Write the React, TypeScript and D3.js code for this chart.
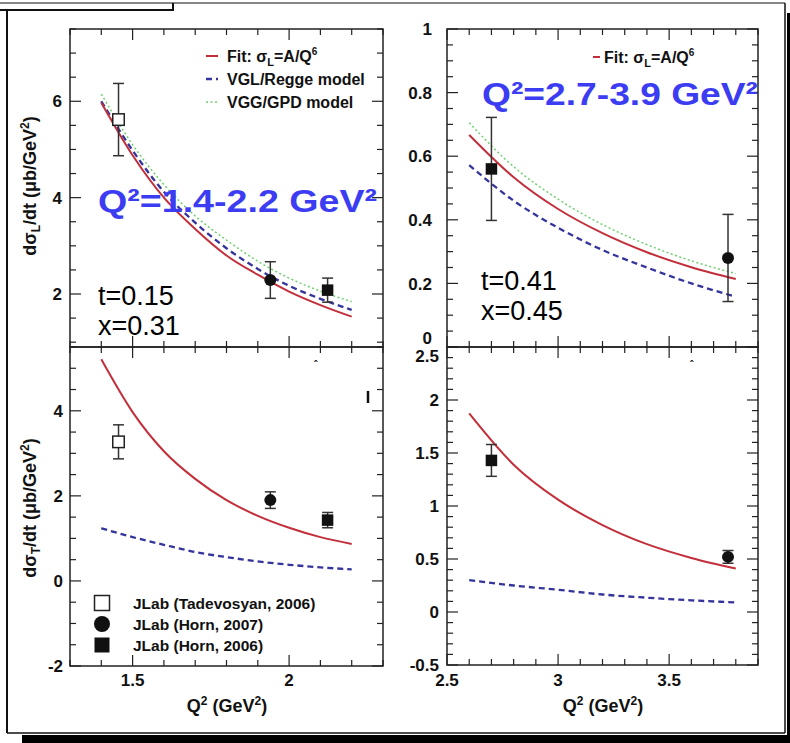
import { useEffect, useRef } from "react";
import * as d3 from "d3";

const FONT = "'Liberation Sans', Arial, Helvetica, sans-serif";

// Q^2 grid and curves, low-Q^2 setting (t=0.15, x=0.31)
const q2Low = [1.4, 1.5, 1.6, 1.7, 1.8, 1.9, 2.0, 2.1, 2.2];
const fitLongLow = [5.97, 4.88, 4.0, 3.35, 2.8, 2.4, 2.05, 1.77, 1.53];
const vglLongLow = [6.0, 4.98, 4.12, 3.48, 2.95, 2.52, 2.17, 1.9, 1.67];
const vggLongLow = [6.15, 5.1, 4.27, 3.62, 3.12, 2.68, 2.33, 2.06, 1.84];
const fitTransLow = [5.21, 3.97, 3.05, 2.4, 1.9, 1.53, 1.25, 1.03, 0.87];
const vglTransLow = [1.24, 1.03, 0.85, 0.68, 0.56, 0.46, 0.38, 0.32, 0.27];

// high-Q^2 setting (t=0.41, x=0.45)
const q2High = [2.6, 2.8, 3.0, 3.2, 3.4, 3.6, 3.8];
const fitLongHigh = [0.667, 0.534, 0.434, 0.358, 0.298, 0.251, 0.214];
const vglLongHigh = [0.572, 0.46, 0.375, 0.305, 0.25, 0.2, 0.158];
const vggLongHigh = [0.705, 0.567, 0.465, 0.385, 0.322, 0.271, 0.231];
const fitTransHigh = [1.874, 1.39, 1.06, 0.82, 0.64, 0.51, 0.41];
const vglTransHigh = [0.3, 0.25, 0.21, 0.165, 0.135, 0.11, 0.09];

// data points: [Q2, value, error]
const tadevosyanLong = [[1.455, 5.62, 0.75]];
const tadevosyanTrans = [[1.455, 3.27, 0.4]];
const horn2007LongLow = [[1.94, 2.29, 0.38]];
const horn2007TransLow = [[1.94, 1.9, 0.195]];
const horn2006LongLow = [[2.123, 2.08, 0.25]];
const horn2006TransLow = [[2.123, 1.43, 0.18]];
const horn2006LongHigh = [[2.7, 0.56, 0.162]];
const horn2006TransHigh = [[2.7, 1.43, 0.15]];
const horn2007LongHigh = [[3.765, 0.28, 0.137]];
const horn2007TransHigh = [[3.765, 0.52, 0.06]];

const legendRows = ["JLab (Tadevosyan, 2006)", "JLab (Horn, 2007)", "JLab (Horn, 2006)"];

const RED = "#c22f3a";
const BLUE = "#34349c";
const GREEN = "#6fd06f";
const TEXTBLUE = "#3c3cf2";

const styles: Record<string, { color: string; width: number; dash: string | null }> = {
  fit: { color: RED, width: 2, dash: null },
  vgl: { color: BLUE, width: 2.3, dash: "6,4" },
  vgg: { color: GREEN, width: 1.5, dash: "2,2.5" },
};

const panels = [
  {
    xd: [1.3, 2.3], yd: [0.9, 7.5], l: 70, r: 383, t: 29, b: 347,
    xMajor: [1.5, 2], xMinor: 0.1, yMajor: [2, 4, 6], yMinor: 0.5,
    yLabels: [2, 4, 6], yLabelX: 62, xLabels: [] as number[],
    q2: q2Low,
    curves: [["vgg", vggLongLow], ["vgl", vglLongLow], ["fit", fitLongLow]],
    points: [["open", tadevosyanLong], ["circle", horn2007LongLow], ["square", horn2006LongLow]],
  },
  {
    xd: [1.3, 2.3], yd: [-2, 5.5], l: 70, r: 383, t: 347, b: 666,
    xMajor: [1.5, 2], xMinor: 0.1, yMajor: [-2, 0, 2, 4], yMinor: 0.5,
    yLabels: [-2, 0, 2, 4], yLabelX: 63, xLabels: [1.5, 2],
    q2: q2Low,
    curves: [["vgl", vglTransLow], ["fit", fitTransLow]],
    points: [["open", tadevosyanTrans], ["circle", horn2007TransLow], ["square", horn2006TransLow]],
  },
  {
    xd: [2.5, 3.9], yd: [0, 1], l: 447, r: 758, t: 29, b: 347,
    xMajor: [2.5, 3, 3.5], xMinor: 0.1, yMajor: [0, 0.2, 0.4, 0.6, 0.8, 1], yMinor: 0.05,
    yLabels: [0, 0.2, 0.4, 0.6, 0.8, 1], yLabelX: 432, xLabels: [] as number[],
    q2: q2High,
    curves: [["vgg", vggLongHigh], ["vgl", vglLongHigh], ["fit", fitLongHigh]],
    points: [["square", horn2006LongHigh], ["circle", horn2007LongHigh]],
  },
  {
    xd: [2.5, 3.9], yd: [-0.5, 2.5], l: 447, r: 758, t: 347, b: 665,
    xMajor: [2.5, 3, 3.5], xMinor: 0.1, yMajor: [-0.5, 0, 0.5, 1, 1.5, 2, 2.5], yMinor: 0.1,
    yLabels: [-0.5, 0, 0.5, 1, 1.5, 2, 2.5], yLabelX: 439, xLabels: [2.5, 3, 3.5],
    q2: q2High,
    curves: [["vgl", vglTransHigh], ["fit", fitTransHigh]],
    points: [["square", horn2006TransHigh], ["circle", horn2007TransHigh]],
  },
];

function minorTicks(d: number[], step: number) {
  const out: number[] = [];
  const start = Math.ceil(d[0] / step - 1e-6);
  for (let i = start; i * step <= d[1] + 1e-6; i++) out.push(+(i * step).toFixed(4));
  return out;
}

function drawMarker(g: any, kind: string, cx: number, cy: number, s: number) {
  if (kind === "circle") {
    g.append("circle").attr("cx", cx).attr("cy", cy).attr("r", s / 2).attr("fill", "#111");
  } else {
    g.append("rect")
      .attr("x", cx - s / 2).attr("y", cy - s / 2).attr("width", s).attr("height", s)
      .attr("fill", kind === "open" ? "#fff" : "#111")
      .attr("stroke", "#222").attr("stroke-width", kind === "open" ? 1.5 : 0);
  }
}

const App = () => {
  const svgRef = useRef<SVGSVGElement>(null);

  useEffect(() => {
    if (!svgRef.current) return;
    const svg = d3.select(svgRef.current);
    svg.selectAll("*").remove();

    svg.append("rect").attr("width", 790).attr("height", 743).attr("fill", "#fff");

    panels.forEach((p) => {
      const x = d3.scaleLinear().domain(p.xd).range([p.l, p.r]);
      const y = d3.scaleLinear().domain(p.yd).range([p.b, p.t]);
      const g = svg.append("g");

      // curves
      p.curves.forEach(([name, vals]: any) => {
        const st = styles[name];
        const line = d3.line<number>()
          .x((_, i) => x(p.q2[i]))
          .y((d) => y(d))
          .curve(d3.curveMonotoneX);
        g.append("path")
          .attr("d", line(vals))
          .attr("fill", "none")
          .attr("stroke", st.color)
          .attr("stroke-width", st.width)
          .attr("stroke-dasharray", st.dash);
      });

      // data points with error bars
      p.points.forEach(([kind, pts]: any) => {
        pts.forEach(([q, v, e]: number[]) => {
          const cx = x(q);
          g.append("line").attr("x1", cx).attr("x2", cx).attr("y1", y(v - e)).attr("y2", y(v + e))
            .attr("stroke", "#333").attr("stroke-width", 1.5);
          [v - e, v + e].forEach((yy) =>
            g.append("line").attr("x1", cx - 5.5).attr("x2", cx + 5.5).attr("y1", y(yy)).attr("y2", y(yy))
              .attr("stroke", "#333").attr("stroke-width", 1.5));
          drawMarker(g, kind, cx, y(v), kind === "circle" ? 12 : 11.5);
        });
      });

      // frame
      g.append("rect").attr("x", p.l).attr("y", p.t).attr("width", p.r - p.l).attr("height", p.b - p.t)
        .attr("fill", "none").attr("stroke", "#222").attr("stroke-width", 1.5);

      // ticks, inward on all four sides
      const tk = g.append("g").attr("stroke", "#222").attr("stroke-width", 1.2);
      const xMin = minorTicks(p.xd, p.xMinor);
      const yMin = minorTicks(p.yd, p.yMinor);
      xMin.forEach((v) => {
        const len = p.xMajor.some((m) => Math.abs(m - v) < 1e-6) ? 11 : 6;
        tk.append("line").attr("x1", x(v)).attr("x2", x(v)).attr("y1", p.b).attr("y2", p.b - len);
        tk.append("line").attr("x1", x(v)).attr("x2", x(v)).attr("y1", p.t).attr("y2", p.t + len);
      });
      yMin.forEach((v) => {
        const len = p.yMajor.some((m) => Math.abs(m - v) < 1e-6) ? 11 : 6;
        tk.append("line").attr("x1", p.l).attr("x2", p.l + len).attr("y1", y(v)).attr("y2", y(v));
        tk.append("line").attr("x1", p.r).attr("x2", p.r - len).attr("y1", y(v)).attr("y2", y(v));
      });

      // tick labels (the shared 0 / 2.5 labels at the right seam are nudged apart)
      p.yLabels.forEach((v) => {
        let yy = y(v);
        if (p.l > 400 && v === 0 && p.t < 100) yy -= 9;
        if (p.l > 400 && v === 2.5) yy += 9;
        g.append("text").attr("x", p.yLabelX).attr("y", yy).attr("dy", "0.36em")
          .attr("text-anchor", "end").attr("font-family", FONT).attr("font-weight", "bold")
          .attr("font-size", 17).attr("fill", "#111").text(String(v));
      });
      p.xLabels.forEach((v) => {
        g.append("text").attr("x", x(v)).attr("y", 686)
          .attr("text-anchor", "middle").attr("font-family", FONT).attr("font-weight", "bold")
          .attr("font-size", 17).attr("fill", "#111").text(String(v));
      });
    });

    const txt = (px: number, py: number, size: number, weight = "bold", fill = "#111") =>
      svg.append("text").attr("x", px).attr("y", py).attr("font-family", FONT)
        .attr("font-size", size).attr("font-weight", weight).attr("fill", fill);

    // axis titles
    const yTitle = (cy: number, sub: string) => {
      const t = svg.append("text").attr("transform", `translate(36,${cy}) rotate(-90)`)
        .attr("text-anchor", "middle").attr("font-family", FONT).attr("font-weight", "bold")
        .attr("font-size", 18).attr("fill", "#111");
      t.append("tspan").text("dσ");
      t.append("tspan").attr("font-size", 12).attr("dy", 4).text(sub);
      t.append("tspan").attr("dy", -4).text("/dt (μb/GeV");
      t.append("tspan").attr("font-size", 12).attr("dy", -7).text("2");
      t.append("tspan").attr("dy", 7).text(")");
    };
    yTitle(186, "L");
    yTitle(508, "T");

    [227, 603].forEach((cx) => {
      const t = txt(cx, 712, 18).attr("text-anchor", "middle");
      t.append("tspan").text("Q");
      t.append("tspan").attr("font-size", 12).attr("dy", -7).text("2");
      t.append("tspan").attr("dy", 7).text(" (GeV");
      t.append("tspan").attr("font-size", 12).attr("dy", -7).text("2");
      t.append("tspan").attr("dy", 7).text(")");
    });

    // model legends
    const fitLabel = (px: number, py: number) => {
      const t = txt(px, py, 16);
      t.append("tspan").text("Fit: σ");
      t.append("tspan").attr("font-size", 11).attr("dy", 4).text("L");
      t.append("tspan").attr("dy", -4).text("=A/Q");
      t.append("tspan").attr("font-size", 10).attr("dy", -7).text("6");
    };
    const legendLines = [
      ["fit", 56], ["vgl", 79], ["vgg", 102],
    ] as [string, number][];
    legendLines.forEach(([name, ly]) => {
      const st = styles[name];
      svg.append("line").attr("x1", 206).attr("x2", 218).attr("y1", ly).attr("y2", ly)
        .attr("stroke", st.color).attr("stroke-width", st.width).attr("stroke-dasharray", st.dash);
    });
    fitLabel(227, 62);
    txt(227, 85, 16).text("VGL/Regge model");
    txt(227, 108, 16).text("VGG/GPD model");

    svg.append("line").attr("x1", 593).attr("x2", 600).attr("y1", 57).attr("y2", 57)
      .attr("stroke", RED).attr("stroke-width", 2);
    fitLabel(604, 63);

    // data legend
    const kinds = ["open", "circle", "square"];
    legendRows.forEach((label, i) => {
      const ly = 603 + i * 21;
      drawMarker(svg, kinds[i], 102, ly, kinds[i] === "circle" ? 16 : 15);
      txt(133, ly + 5.5, 15.5).text(label);
    });

    // big annotations
    txt(98, 212, 32, "bold", TEXTBLUE).attr("textLength", 279).attr("lengthAdjust", "spacingAndGlyphs")
      .text("Q²=1.4-2.2 GeV²");
    txt(482, 105, 32, "bold", TEXTBLUE).attr("textLength", 276).attr("lengthAdjust", "spacingAndGlyphs")
      .text("Q²=2.7-3.9 GeV²");
    txt(98, 305, 27, "normal", "#000").text("t=0.15");
    txt(98, 335, 27, "normal", "#000").text("x=0.31");
    txt(481, 290, 27, "normal", "#000").text("t=0.41");
    txt(481, 320, 27, "normal", "#000").text("x=0.45");

    // small leftover marks
    svg.append("line").attr("x1", 368).attr("x2", 368).attr("y1", 391).attr("y2", 403)
      .attr("stroke", "#111").attr("stroke-width", 2.5);
    [317, 693].forEach((mx) => txt(mx - 3, 368, 10).text("ˆ"));

    // outer frame with shadow
    const fr = svg.append("g").attr("stroke", "#111");
    fr.append("line").attr("x1", 0).attr("x2", 785).attr("y1", 3).attr("y2", 3).attr("stroke-width", 1.2);
    fr.append("line").attr("x1", 0).attr("x2", 174).attr("y1", 10).attr("y2", 10).attr("stroke-width", 2);
    fr.append("line").attr("x1", 173).attr("x2", 173).attr("y1", 3).attr("y2", 10).attr("stroke-width", 2);
    fr.append("line").attr("x1", 7).attr("x2", 7).attr("y1", 10).attr("y2", 733).attr("stroke-width", 2);
    fr.append("line").attr("x1", 785).attr("x2", 785).attr("y1", 3).attr("y2", 733).attr("stroke-width", 1.5);
    fr.append("line").attr("x1", 7).attr("x2", 785).attr("y1", 733).attr("y2", 733).attr("stroke-width", 1.5);
    svg.append("rect").attr("x", 22).attr("y", 735).attr("width", 768).attr("height", 8).attr("fill", "#000");
    svg.append("rect").attr("x", 787).attr("y", 13).attr("width", 3).attr("height", 730).attr("fill", "#000");
  }, []);

  return (
    <svg
      ref={svgRef}
      width={790}
      height={743}
      style={{ position: "absolute", left: 0, top: 0, display: "block" }}
    />
  );
};

export default App;
